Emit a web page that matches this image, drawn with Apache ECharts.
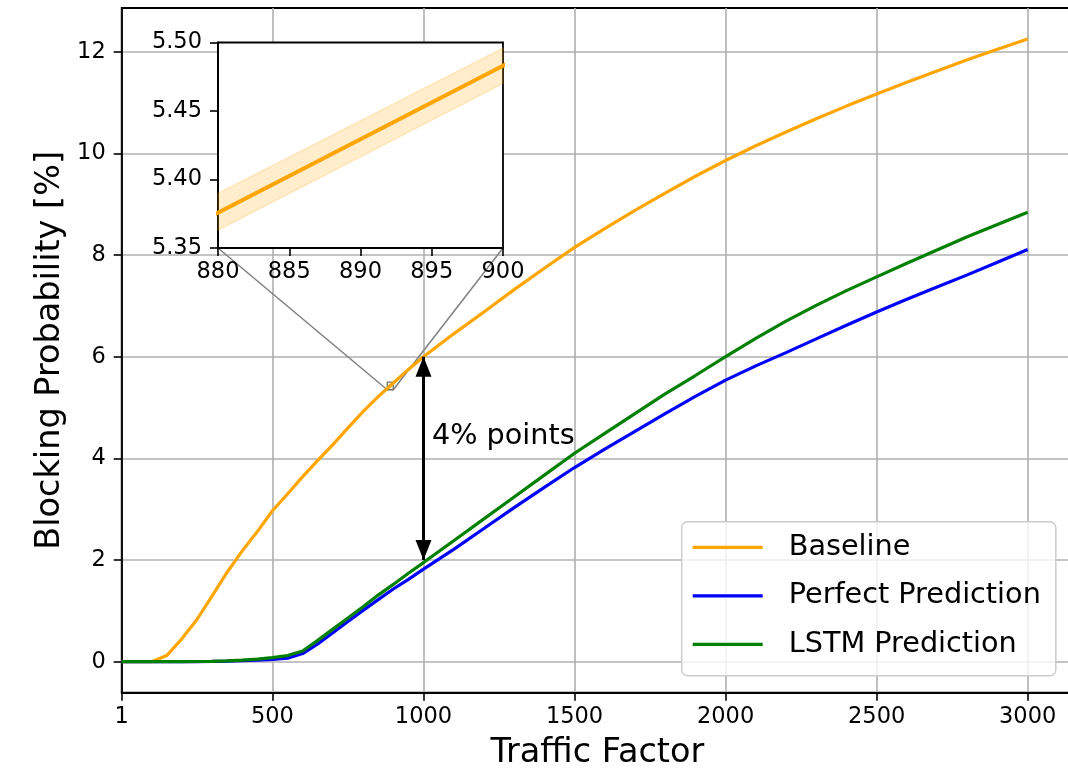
<!DOCTYPE html>
<html>
<head>
<meta charset="utf-8">
<script src="https://cdn.jsdelivr.net/npm/echarts@6/dist/echarts.min.js"></script>
<style>html,body{margin:0;padding:0;background:#fff;}#c{width:1068px;height:773px;}</style>
</head>
<body>
<div id="c"></div>
<script>
// ---- data ----
const trafficFactor = [1, 50, 100, 150, 200, 250, 300, 350, 400, 450, 500, 550, 600, 650, 700, 750, 800, 850, 900, 950, 1000,
  1100, 1200, 1300, 1400, 1500, 1600, 1700, 1800, 1900, 2000, 2100, 2200, 2300, 2400, 2500, 2600, 2700, 2800, 2900, 3000];
const baseline = [0, 0, 0, 0.12, 0.45, 0.83, 1.29, 1.76, 2.18, 2.56, 2.97, 3.30, 3.64, 3.96, 4.27, 4.60, 4.92, 5.215, 5.483, 5.75, 6.0,
  6.45, 6.88, 7.32, 7.74, 8.15, 8.52, 8.88, 9.22, 9.55, 9.86, 10.15, 10.42, 10.68, 10.93, 11.17, 11.40, 11.62, 11.84, 12.05, 12.25];
const perfect = [0, 0, 0, 0, 0, 0.003, 0.006, 0.01, 0.02, 0.03, 0.045, 0.07, 0.16, 0.35, 0.57, 0.79, 1.01, 1.22, 1.43, 1.62, 1.82,
  2.21, 2.62, 3.03, 3.43, 3.82, 4.18, 4.53, 4.88, 5.22, 5.54, 5.82, 6.08, 6.35, 6.62, 6.88, 7.13, 7.37, 7.61, 7.86, 8.11];
const lstm = [0, 0, 0, 0, 0, 0.004, 0.008, 0.015, 0.03, 0.05, 0.08, 0.12, 0.21, 0.42, 0.64, 0.86, 1.08, 1.31, 1.52, 1.74, 1.95,
  2.38, 2.81, 3.24, 3.67, 4.10, 4.49, 4.88, 5.27, 5.63, 6.00, 6.36, 6.70, 7.01, 7.30, 7.57, 7.84, 8.10, 8.36, 8.60, 8.84];
// confidence band of the baseline (inset)
const bandX = [880, 900];
const bandLow = [5.363, 5.470];
const bandHigh = [5.390, 5.496];
// ticks
const xTicks = [1, 500, 1000, 1500, 2000, 2500, 3000];
const yTicks = [0, 2, 4, 6, 8, 10, 12];
const insetXTicks = [880, 885, 890, 895, 900];
const insetYTicks = [5.35, 5.40, 5.45, 5.50];
// zoom window and annotation
const zoomX = [880, 900];
const zoomY = [5.35, 5.50];
const gapArrow = {x: 1000, from: 2, to: 6};
const gapText = {x: 1028, y: 4.42, text: '4% points'};

const FONT = 'DejaVu Sans';
const zip = (xs, ys) => xs.map((x, i) => [x, ys[i]]);

const inset = {left: 218, top: 42.5, width: 285, height: 205.5};

const chart = echarts.init(document.getElementById('c'), null, {renderer: 'canvas'});

const axisCommon = {
  axisLine: {show: true, onZero: false, lineStyle: {color: '#000', width: 1.8}},
  axisTick: {show: true, length: 8, lineStyle: {color: '#000', width: 1.6}},
  axisLabel: {color: '#000', fontSize: 22.5, fontFamily: FONT},
  nameTextStyle: {color: '#000', fontSize: 33.5, fontFamily: FONT},
  nameMoveOverlap: false
};
const splitStyle = {show: true, lineStyle: {color: '#b0b0b0', width: 1.6}};

const option = {
  animation: false,
  backgroundColor: '#fff',
  textStyle: {fontFamily: FONT},
  grid: [
    {left: 121.7, top: 8, width: 951.3, height: 684.7, show: true, borderColor: '#000', borderWidth: 1.8, outerBoundsMode: 'none', containLabel: false},
    {left: inset.left, top: inset.top, width: inset.width, height: inset.height, show: false, outerBoundsMode: 'none', containLabel: false}
  ],
  xAxis: [
    Object.assign({}, axisCommon, {
      type: 'value', gridIndex: 0, min: 1, max: 3150,
      axisTick: Object.assign({}, axisCommon.axisTick, {customValues: xTicks}),
      axisLabel: Object.assign({}, axisCommon.axisLabel, {customValues: xTicks, margin: 13, formatter: v => String(v)}),
      splitLine: splitStyle,
      name: 'Traffic Factor', nameLocation: 'middle', nameGap: 44
    }),
    Object.assign({}, axisCommon, {
      type: 'value', gridIndex: 1, min: zoomX[0], max: zoomX[1], z: 3,
      axisTick: Object.assign({}, axisCommon.axisTick, {customValues: insetXTicks}),
      axisLabel: Object.assign({}, axisCommon.axisLabel, {customValues: insetXTicks, margin: 13, formatter: v => String(v)}),
      splitLine: {show: false}
    })
  ],
  yAxis: [
    Object.assign({}, axisCommon, {
      type: 'value', gridIndex: 0, min: -0.61, max: 12.86,
      axisTick: Object.assign({}, axisCommon.axisTick, {customValues: yTicks}),
      axisLabel: Object.assign({}, axisCommon.axisLabel, {customValues: yTicks, margin: 16, formatter: v => String(v)}),
      splitLine: splitStyle,
      name: 'Blocking Probability [%]', nameLocation: 'middle', nameGap: 54
    }),
    Object.assign({}, axisCommon, {
      type: 'value', gridIndex: 1, min: zoomY[0], max: zoomY[1], z: 3,
      axisTick: Object.assign({}, axisCommon.axisTick, {customValues: insetYTicks}),
      axisLabel: Object.assign({}, axisCommon.axisLabel, {customValues: insetYTicks, margin: 16, formatter: v => v.toFixed(2)}),
      splitLine: {show: false}
    })
  ],
  legend: {
    data: ['Baseline', 'Perfect Prediction', 'LSTM Prediction'],
    orient: 'vertical', left: 681.7, top: 521.7,
    padding: [8.6, 15, 14.4, 11],
    icon: 'rect', itemWidth: 70, itemHeight: 3.2, itemGap: 14.5,
    backgroundColor: 'rgba(255,255,255,0.8)', borderColor: '#cccccc', borderWidth: 1.5, borderRadius: 6,
    textStyle: {fontSize: 28.7, fontFamily: FONT, color: '#000', lineHeight: 34, padding: [0, 0, 0, 21]},
    selectedMode: false
  },
  graphic: [
    {id: 'insetBg', type: 'rect', z: 1, silent: true,
     shape: {x: inset.left, y: inset.top, width: inset.width, height: inset.height},
     style: {fill: '#fff', stroke: '#000', lineWidth: 1.8}}
  ],
  series: [
    {
      name: 'Baseline', type: 'line', xAxisIndex: 0, yAxisIndex: 0, data: zip(trafficFactor, baseline),
      symbol: 'none', color: '#FFA500', lineStyle: {width: 3.2, color: '#FFA500'}, z: 2,
      markArea: {silent: true, itemStyle: {color: 'rgba(255,165,0,0.15)', borderColor: '#707070', borderWidth: 1.3},
        data: [[{coord: [zoomX[0], zoomY[0]]}, {coord: [zoomX[1], zoomY[1]]}]]}
    },
    {
      name: 'Perfect Prediction', type: 'line', xAxisIndex: 0, yAxisIndex: 0, data: zip(trafficFactor, perfect),
      symbol: 'none', color: '#0000FF', lineStyle: {width: 3.2, color: '#0000FF'}, z: 2
    },
    {
      name: 'LSTM Prediction', type: 'line', xAxisIndex: 0, yAxisIndex: 0, data: zip(trafficFactor, lstm),
      symbol: 'none', color: '#008000', lineStyle: {width: 3.2, color: '#008000'}, z: 2,
      markLine: {
        silent: true, symbol: ['triangle', 'triangle'], symbolSize: [16, 20], symbolOffset: [[0, '50%'], [0, '50%']],
        lineStyle: {color: '#000', width: 3, type: 'solid'}, label: {show: false}, emphasis: {disabled: true},
        data: [[{coord: [gapArrow.x, gapArrow.from]}, {coord: [gapArrow.x, gapArrow.to]}]]
      },
      markPoint: {
        silent: true, symbol: 'circle', symbolSize: 0,
        label: {show: true, position: 'inside', align: 'left', verticalAlign: 'middle', formatter: gapText.text,
          fontSize: 28.7, fontFamily: FONT, color: '#000'},
        data: [{coord: [gapText.x, gapText.y]}]
      }
    },
    {
      name: 'band', type: 'custom', xAxisIndex: 1, yAxisIndex: 1, z: 4, silent: true,
      data: bandX.map((x, i) => [x, bandLow[i], bandHigh[i]]),
      renderItem: (params, api) => {
        if (params.dataIndex !== 0) return;
        const pts = [];
        for (let i = 0; i < bandX.length; i++) pts.push(api.coord([bandX[i], bandHigh[i]]));
        for (let i = bandX.length - 1; i >= 0; i--) pts.push(api.coord([bandX[i], bandLow[i]]));
        return {type: 'polygon', shape: {points: pts},
          style: {fill: 'rgba(255,165,0,0.2)', stroke: 'rgba(255,165,0,0.22)', lineWidth: 1.2}};
      }
    },
    {
      name: 'Baseline zoom', type: 'line', xAxisIndex: 1, yAxisIndex: 1, data: zip(trafficFactor, baseline),
      symbol: 'none', color: '#FFA500', lineStyle: {width: 4, color: '#FFA500'}, z: 5, clip: true
    }
  ]
};
chart.setOption(option);

const c1 = chart.convertToPixel({gridIndex: 0}, [zoomX[0], zoomY[0]]);
const c2 = chart.convertToPixel({gridIndex: 0}, [zoomX[1], zoomY[0]]);
const bl = [inset.left, inset.top + inset.height];
const br = [inset.left + inset.width, inset.top + inset.height];
chart.setOption({
  graphic: [
    {id: 'insetBg', type: 'rect', z: 1, silent: true,
     shape: {x: inset.left, y: inset.top, width: inset.width, height: inset.height},
     style: {fill: '#fff', stroke: '#000', lineWidth: 1.8}},
    {id: 'conn1', type: 'line', z: 1, silent: true,
     shape: {x1: bl[0], y1: bl[1], x2: c1[0], y2: c1[1]}, style: {stroke: '#808080', lineWidth: 1.5}},
    {id: 'conn2', type: 'line', z: 1, silent: true,
     shape: {x1: br[0], y1: br[1], x2: c2[0], y2: c2[1]}, style: {stroke: '#808080', lineWidth: 1.5}}
  ]
});
</script>
</body>
</html>
